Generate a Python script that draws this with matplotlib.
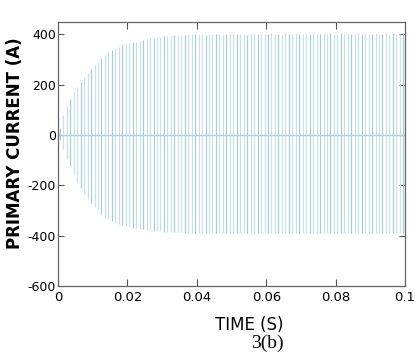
import numpy as np
import matplotlib.pyplot as plt

# --- peak values of the primary current (A) ---
# one vertical stroke per cycle, 1 ms apart from 0.5 ms to 99.5 ms
t_peak = np.arange(100) * 0.001 + 0.0005

i_pos = [30, 80, 115, 145, 170, 192, 212, 230, 246, 262,
         277, 290, 305, 320, 330, 338, 345, 352, 358, 362,
         366, 369, 372, 375, 378, 381, 384, 386, 388, 390,
         392, 393, 395, 396, 397, 398, 399, 400, 400, 401,
         400, 402, 399, 401, 403, 400, 402, 398, 401, 403,
         402, 400, 403, 401, 399, 402, 404, 401, 400, 403,
         402, 404, 400, 403, 401, 405, 402, 400, 404, 403,
         401, 404, 402, 405, 400, 403, 404, 401, 405, 402,
         403, 405, 401, 404, 403, 400, 405, 402, 404, 403,
         401, 405, 403, 402, 404, 401, 405, 403, 402, 404]

i_neg = [-20, -55, -95, -125, -160, -185, -210, -235, -255, -272,
         -288, -300, -315, -328, -335, -342, -348, -354, -358, -362,
         -365, -368, -371, -373, -375, -377, -379, -380, -382, -383,
         -384, -385, -386, -386, -387, -387, -388, -388, -389, -389,
         -389, -388, -390, -389, -388, -390, -389, -391, -388, -390,
         -389, -390, -388, -391, -389, -390, -388, -389, -391, -390,
         -388, -390, -389, -391, -390, -388, -389, -391, -390, -389,
         -388, -390, -391, -389, -390, -388, -391, -390, -389, -390,
         -391, -389, -390, -388, -391, -390, -389, -390, -391, -389,
         -390, -388, -391, -390, -389, -390, -391, -389, -390, -390]

x_ticks = [0, 0.02, 0.04, 0.06, 0.08, 0.1]
x_ticklabels = ["0", "0.02", "0.04", "0.06", "0.08", "0.1"]
y_ticks = [-600, -400, -200, 0, 200, 400]

fig = plt.figure(figsize=(4.15, 3.53), dpi=100)
ax = fig.add_axes([0.140, 0.190, 0.836, 0.748])

# alternate two tints so the strokes look like the sampled waveform
cols = ["#c8e0ea" if k % 3 else "#adc9d6" for k in range(len(t_peak))]
ax.vlines(t_peak, i_neg, i_pos, colors=cols, linewidth=0.9)
ax.axhline(0, color="#b4d0dc", lw=1.0)

ax.set_xlim(0, 0.1)
ax.set_ylim(-600, 450)
ax.set_xticks(x_ticks)
ax.set_xticklabels(x_ticklabels, fontsize=9.5)
ax.set_yticks(y_ticks)
ax.set_yticklabels([str(v) for v in y_ticks], fontsize=9)
ax.tick_params(axis="x", direction="in", length=5, top=True, pad=4, color="#555555")
ax.tick_params(axis="y", direction="in", length=4, right=True, pad=1.5, color="#555555")
for s in ax.spines.values():
    s.set_color("#666666")
    s.set_linewidth(0.9)

fig.text(0.036, 0.595, "PRIMARY CURRENT (A)", rotation=90, ha="center", va="center",
         fontsize=12, fontweight="bold")
fig.text(0.60, 0.078, "TIME (S)", ha="center", va="center", fontsize=12)
fig.text(0.645, 0.028, "3(b)", ha="center", va="center", family="Liberation Serif", fontsize=14)

fig.savefig("out.png", dpi=100)
